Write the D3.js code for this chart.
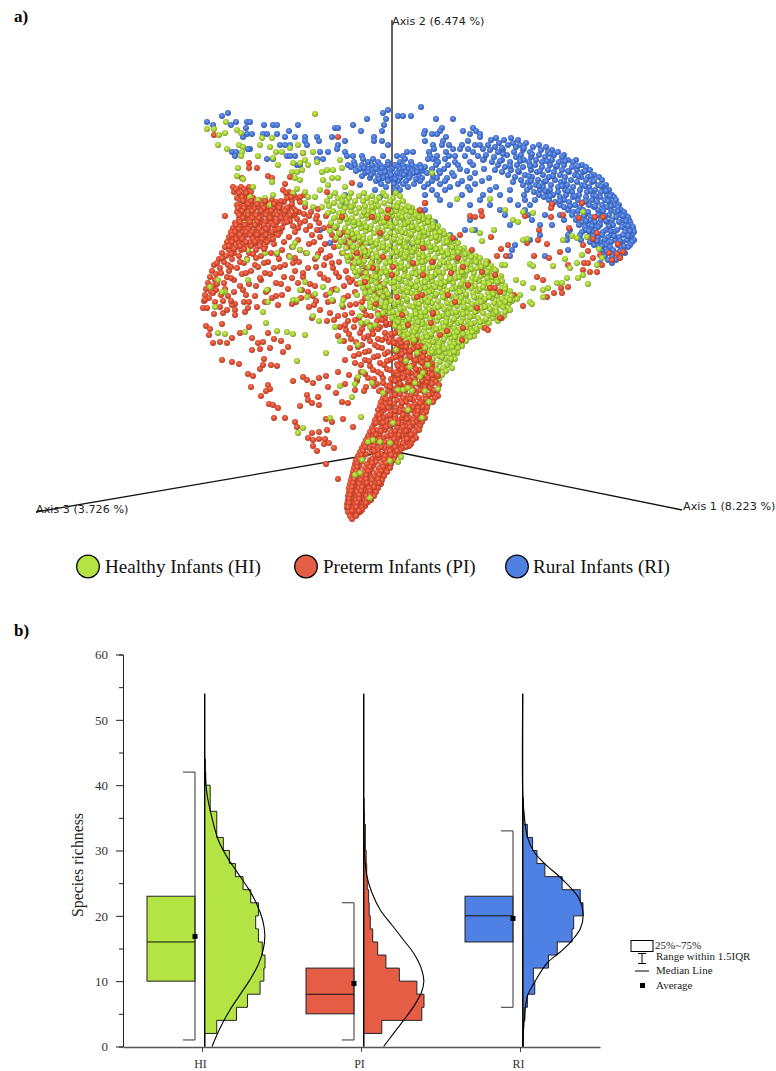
<!DOCTYPE html>
<html>
<head>
<meta charset="utf-8">
<script src="https://cdn.jsdelivr.net/npm/d3@7"></script>
<style>
  html, body { margin: 0; padding: 0; background: #fff; }
  svg { display: block; }
</style>
</head>
<body>
<svg width="776" height="1071"></svg>
<script>
// ---- panel a: PCoA ordination as [axis2, [screen-plane axis1 values]]
const ruralRows = [
  [344,[29]],[341,[-4]],[338,[-164,-9]],[335,[-170,6,19,11]],[332,[-25,-6,44,61]],
  [329,[-156,-145,-142,-185]],[326,[-179,-161,-119,-94,-39,-8,-128,-115]],
  [323,[-146,-57,-54,50,81]],[320,[-103,33,-31,-10,84,71,48]],
  [317,[-145,-140,-129,-125,-115,40,45,32,78,88]],
  [314,[-149,-107,-97,-87,-75,-60,-18,54,88]],
  [310,[-87,-73,-47,-18,-10,33,51,76]],
  [306,[-112,-107,-102,-85,-54,-4,41,50,57,83,88,70]],
  [302,[-142,-144,-55,42,61,68,76,91]],
  [299,[-160,-156,-64,-72,-47,15,21,37,54,81]],
  [295,[-105,-97,-102,-157,-45,-39,-30,-9,5,11,38,45,57,63,73,86]],
  [292,[-125,-119,-75,-69,-29,-19,36,41,53,13,92]],
  [289,[-14,45,46,63,78,-38,-24,-4,8,19]],
  [286,[-95,-92,-44,-37,-30,-20,-12,-4,3,11,20,28,44,56,66,81]],
  [284,[-41,-27,-15,-7,6,15,24,33]],
  [282,[-32,-24,-16,-8,0,8,16,26,40,52,68,92]],
  [280,[-36,-21,-12,-2,11,20,30,47,75]],
  [278,[-27,-19,-11,-3,5,13,22,35,48,60,83]],
  [275,[-30,-14,-5,2,9,18,27,41,62]],
  [273,[-22,-9,0,8,17,30,45,55,78,97]],
  [270,[-16,-4,6,14,28,40,53,70,90]],
  [267,[-11,2,11,22,36,48,66,83]],
  [264,[-6,5,16,32,58,76,104]],
  [261,[3,8,40,53,78,98,118]],
  [256,[33,45,70,91,108,132]],
  [251,[48,88,118,133,143]],
  [246,[58,78,98,126,138,160]],
  [241,[33,108,133]],[236,[113,136,153,168]],[231,[78,140,172]],
  [226,[118,148,160]],[221,[73,83,178]],[216,[58,148,176]],[211,[63,138,175]],[206,[123]],[201,[120,176]],[195,[118,153]]
];
const ruralArc = [
  [313,[104,119]],[311,[99,112,126]],[308,[107,121,134]],[306,[96,116,128,147]],[304,[103,124,141,154]],
  [301,[98,111,131,149,160]],[299,[106,122,138,156,166]],[296,[94,115,129,147,162,172]],[294,[102,124,139,153,170]],
  [291,[91,110,132,144,160,176,184]],[289,[100,118,137,150,167,181]],[286,[106,125,143,158,172,190]],[284,[113,131,150,164,180,194]],
  [281,[103,119,139,156,170,185,198]],[279,[110,127,145,162,177,191]],[276,[116,133,151,168,183,202]],[274,[123,140,157,173,189,196,207]],
  [271,[129,146,163,179,194,210]],[269,[121,136,152,169,185,200]],[266,[131,144,159,175,190,206,214]],[264,[138,151,166,181,197,211]],
  [261,[135,148,158,173,188,203,217]],[259,[142,155,166,180,195,209]],[256,[147,161,174,187,201,215,220]],[254,[152,168,181,194,208,222]],
  [251,[157,172,186,200,213,224]],[249,[163,177,192,205,218]],[246,[168,183,197,210,222,227]],[244,[172,188,202,215,226]],
  [241,[176,191,206,219,229]],[239,[181,196,210,223,232]],[236,[180,193,206,217,229,233]],[234,[186,199,212,224,236]],
  [231,[184,198,209,220,231,237]],[229,[190,203,215,227,238]],[226,[187,197,208,221,233,239]],[224,[193,206,217,230,241]],
  [221,[194,203,214,225,236,241]],[219,[190,200,211,222,233,242]],[216,[188,198,210,219,231,240]],[214,[196,206,216,227,238]],
  [211,[189,202,213,223,235,242]],[209,[198,208,219,230,240]],[206,[202,214,226,238]],[204,[207,218,229,236]],
  [201,[210,221,231]],[198,[214,224,233]],[195,[213,220,228]],[191,[216,224]],[188,[208,220]]
];
const ruralFill = [
  [303,[110,132]],[297,[111,140,158]],[290,[108,128,155,173]],[285,[118,138,165,186]],[280,[126,148,176,193]],
  [275,[137,161,186,199]],[270,[139,154,172,202]],[265,[147,170,193,209]],[260,[153,176,199,214]],[255,[158,183,204,218]],
  [250,[168,194,216]],[245,[178,203,219]],[240,[186,211,226]],[235,[192,213,231]],[230,[194,214,234]],[225,[200,217,236]],
  [220,[197,219,238]],[215,[201,222,236]],[210,[205,228]],[205,[210,232]],[200,[215,228]],
  [283,[-28,-10,12,29]],[279,[-24,-7,14,25]],[276,[-21,-1,12]],[272,[-13,3,24]]
];
const ruralBehind = [[-47,256],[-72,221],[-62,208],[-22,208],[8,198],[20,206],[43,229],[-47,246],[-12,254],[-32,266],[-17,261]];

const pretermBack = [
  [264,[-159,-151,-143]],[261,[-155,-147,-109]],[259,[-158,-141,-103]],[256,[-151,-145,-98,-88]],
  [253,[-155,-148,-139,-105,-94]],[251,[-152,-144,-133,-120,-100]],[249,[-147,-137,-126,-116,-108,-92]],
  [246,[-155,-149,-141,-130,-121,-112]],[244,[-152,-143,-134,-124,-115,-103,-87]],[242,[-147,-138,-128,-119,-109,-98,-74]],
  [239,[-155,-144,-132,-125,-113,-104,-93,-81]],[237,[-151,-139,-128,-118,-108,-97,-88]],[235,[-167,-146,-134,-123,-112,-100,-83,-75,-66]],
  [232,[-153,-143,-131,-120,-106,-95,-76]],[230,[-148,-137,-125,-114,-102,-87]],[228,[-157,-145,-133,-121,-108,-92,-73]],
  [225,[-152,-141,-128,-116,-99,-82,-62]],[223,[-159,-147,-135,-124,-110,-94,-68,-56]],[221,[-155,-143,-130,-117,-86,-75]],
  [219,[-161,-150,-138,-126,-112,-97,-48]],[216,[-157,-146,-133,-120,-80,-60,-52]],[214,[-163,-152,-140,-127,-103,-72,-42]],
  [211,[-159,-148,-135,-123,-94,-57,-38]],[209,[-165,-154,-142,-131,-108,-78,-47]],[207,[-161,-149,-137,-118,-83,-67,-31]],
  [204,[-167,-156,-145,-127,-100,-58,-44]],[201,[-163,-151,-136,-110,-92,-71,-27]],[198,[-170,-158,-143,-121,-86,-50,-36]],
  [195,[-166,-153,-131,-103,-62,-44,-24]],[192,[-173,-160,-145,-113,-77,-31]],[189,[-168,-152,-124,-93,-53,-20]],
  [186,[-178,-164,-137,-107,-68,-39]],[183,[-172,-155,-118,-84,-59,-26]],[180,[-180,-163,-141,-97,-46,-14]],
  [177,[-176,-150,-122,-72,-33]],[174,[-182,-165,-108,-89,-53,-21]],[171,[-177,-158,-131,-64,-40]],
  [168,[-184,-168,-116,-94,-29,-15]],[165,[-179,-152,-136,-77,-48]],[162,[-186,-167,-104,-57,-23,-7]],
  [159,[-181,-158,-126,-84,-37]],[156,[-187,-171,-146,-110,-66,-14]],[153,[-183,-120,-91,-48,-27]],
  [150,[-188,-169,-76,-59,-5]],[147,[-157,-100,-36,-18]],[144,[-172,-135,-83,-49,-9]],
  [141,[-72,-28]],[138,[-62,-40,-14,-3]],[135,[-54,-21]],[133,[-80,-33,-7,1]],[130,[-65,-44,-15]],
  [127,[-28,-2,7]],[124,[-52,-38,-12]],[121,[-46,-20,5]],[118,[-32,-7,12]],[115,[-54,-24,0]],
  [112,[-41,-14,9]],[109,[-36,-3,18]],[106,[-30,-17,6]],[103,[-42,-10,14,24]],[100,[-23,3]],
  [97,[-33,-7,18]],[94,[-18,9]],[91,[-47,-27,-2,22]],[88,[-37,-12]],[85,[-22,6,19]],
  [82,[-5,13]],[79,[-54,-31,-14,26]],[76,[-43,3]],[73,[-24,-9,17,30]],[70,[-35,7]],
  [67,[-47,-15,21,34]],[64,[-26,-2]],[61,[-37,-11,12,28,40]]
];
const pretermFill = [
  [197,[-161,-139,-115,-74,-28]],[193,[-170,-136,-97,-66,-41]],[188,[-175,-148,-128,-99,-60,-34]],[184,[-161,-134,-112,-76,-23]],
  [178,[-171,-146,-127,-89,-56,-30]],[173,[-161,-132,-100,-68,-44]],[167,[-175,-143,-111,-82,-35,-10]],[161,[-176,-149,-124,-90,-60,-18]],
  [155,[-164,-137,-116,-79,-44,-8]],[149,[-177,-148,-127,-96,-64,-30]],[146,[-160,-114,-78,-42,-14]],
  [136,[-47,-26,-10]],[131,[-58,-37,-10]],[126,[-47,-22,-6]],[122,[-30,-14]],[117,[-43,-19,-1]],[113,[-28,-6]],[110,[-48,-22,1]],
  [104,[-34,-14,10]],[99,[-27,-4,12]],[95,[-38,-14,6]],[90,[-23,-5,14]],[86,[-31,-8,11]],[81,[-19,-2,16]],[77,[-27,-11,10]],
  [72,[-35,-18,-1]],[68,[-9,6,23]],[65,[-18,-5,15]],[60,[-28,-13,3]]
];
const pretermSparse = [
  [-54,314],[-178,316],[-89,298],[-143,288],[-143,283],[-135,283],[-124,275],[-120,273],[-107,267],[-150,273],[-102,274],[-40,268],
  [-187,151],[-179,158],[-189,143],[-185,143],[-178,137],[-169,138],[-165,141],[-161,150],[-157,141],[-157,136],[-147,139],[-143,149],[-144,143],
  [-170,127],[-186,125],[-182,122],[-183,116],[-143,124],[-152,118],[-160,113],[-165,108],[-179,108],[-172,109],[-140,113],[-134,108],[-140,101],[-132,102],[-122,103],[-129,109],[-118,112],[-111,110],[-104,104],[-109,99],[-124,118],
  [-170,91],[-160,89],[-153,87],[-128,92],[-129,86],[-132,82],[-121,86],[-115,85],[-144,77],[-139,75],[-141,64],[-131,55],[-124,66],[-122,62],[-126,60],[-123,47],[-119,46],[-114,43],[-118,33],[-107,33],[-97,29],[-95,24],
  [-99,70],[-89,74],[-85,71],[-79,68],[-73,73],[-66,75],[-85,56],[-84,51],[-80,48],[-74,54],[-92,45],[-73,46],[-64,64],[-56,58],[-50,49],[-44,48],[-66,32],[-60,29],[-49,32],[-39,24],[-65,21],[-80,18],[-84,13],[-73,19],[-73,12],[-67,12],[-79,11],[-68,7],[-63,8],[-58,3],[-79,5],[-75,0],[-66,-13],[-54,-28],
  [33,248],[30,237],[78,235],[83,234],[89,240],[90,235],[160,247],[159,243],[159,234],[171,236],[133,235],[135,208],[146,211],[147,221],[155,207],[99,214],[116,206],[109,202],[105,195],[114,195],[142,195],[157,193],[168,199],[96,189],[145,174],[151,171],[177,223],[187,233],[203,234],[211,234],[190,248],[205,218],[201,212],[191,206],[196,200],[217,198],[226,207],[225,197],[220,191],[201,193],[231,199],[228,193],[208,196],[192,188],[196,188],[198,179],[205,179],[210,186],[191,181],[176,186],[176,164],[169,163],[170,158],[162,158],[155,154],[122,156],[131,145],[118,151]
];

const healthyRows = [
  [258,[-57,-41,-28,-9,4]],[255,[-62,-48,-33,-20,-6,8]],[253,[-54,-43,-25,-13,1]],[250,[-65,-50,-37,-29,-16,-2,11]],
  [248,[-58,-45,-21,-8,6]],[245,[-63,-52,-39,-27,-14,2,15]],[243,[-47,-33,-18,-4,9,20]],[240,[-59,-41,-24,-11,4,14,26]],
  [238,[-64,-53,-36,-19,-6,10,23]],[235,[-47,-30,-14,0,17,30]],[233,[-58,-40,-24,-9,6,22,35]],[230,[-52,-34,-17,-3,12,27,40]],
  [228,[-61,-44,-28,-11,4,19,33]],[225,[-55,-38,-21,-6,9,24,38,46]],[223,[-47,-31,-14,1,16,30,44]],[220,[-62,-41,-26,-9,6,21,36,51]],
  [218,[-53,-35,-18,-2,13,28,43]],[215,[-45,-29,-12,3,18,33,48,57]],[213,[-56,-38,-22,-6,9,24,39,54]],[210,[-49,-32,-15,0,15,30,45,62]],
  [208,[-42,-26,-9,6,21,36,52,66]],[205,[-53,-35,-19,-3,11,27,42,58]],[203,[-46,-29,-13,3,17,33,48,63,72]],[200,[-39,-22,-7,9,24,39,55,70,79]],
  [198,[-49,-32,-16,0,15,30,46,61,76]],[195,[-42,-26,-10,5,20,36,52,67,84]],[193,[-35,-19,-4,11,27,43,58,73,88]],[190,[-44,-28,-13,2,18,33,49,65,80,94]],
  [188,[-37,-21,-6,9,25,40,56,71,87]],[185,[-30,-15,0,16,31,47,62,78,92,99]],[183,[-39,-23,-8,7,23,38,54,69,85,97]],[180,[-33,-17,-2,13,29,44,60,75,90,104]],
  [178,[-26,-11,5,20,35,51,66,82,97]],[175,[-35,-19,-4,12,27,42,58,73,89,103,109]],[173,[-28,-13,3,18,33,49,64,80,95,107]],[170,[-21,-6,9,25,40,56,71,87,100,110]],
  [168,[-32,-16,-1,14,30,45,61,76,92,106]],[165,[-24,-9,6,21,37,52,68,83,99,113]],[163,[-29,-14,2,17,33,48,63,79,94,110]],[160,[-21,-6,9,25,40,55,71,86,102,118]],
  [158,[-27,-12,4,19,34,50,65,81,96,112]],[155,[-18,-3,12,28,43,59,74,89,105,119]],[153,[-24,-8,7,22,38,53,69,84,100,115]],[150,[-16,-1,15,30,46,61,76,92,107,120]],
  [148,[-22,-6,9,24,40,55,71,86,102,117]],[145,[-12,3,18,34,49,65,80,96,110]],[143,[-18,-3,12,27,43,58,74,89,104,116]],[140,[-7,8,23,39,54,70,85,100,114]],
  [138,[-2,14,29,45,60,75,91,106]],[135,[3,19,34,50,65,81,96,112]],[133,[0,8,24,40,55,71,86,101,110]],[130,[4,14,30,45,61,76,92,106]],
  [128,[9,20,36,51,66,82,97]],[125,[3,15,26,41,57,72,88]],[123,[8,21,33,48,62,78,92]],[120,[13,27,41,56,70,85]],
  [118,[7,19,33,47,62,76]],[115,[12,25,39,54,68,82]],[113,[17,30,45,59,72]],[110,[14,23,37,51,65,74]],
  [108,[19,31,44,58,69]],[105,[24,37,50,63,70]],[103,[20,30,43,56,66]],[100,[25,36,49,60]],
  [98,[29,42,54,65]],[95,[26,35,47,61]],[92,[31,41,53,63]],[89,[28,37,48,58]],[86,[33,44,55]],
  [83,[30,40,51,60]],[80,[35,46,54]],[76,[33,42,50]],[72,[37,47]]
];
// extra points where the green cloud is solid
const healthyFill = [
  [236,[-25,-3,7,24]],[232,[-46,-15,11,31]],[227,[-33,-2,13,41]],[222,[-22,8,26,39]],[217,[-40,-11,19,36,52]],
  [212,[-29,2,16,47,60]],[207,[-16,12,30,57]],[202,[-36,-5,22,44,68]],[197,[-24,8,27,56,73]],[192,[-12,16,37,64,82]],
  [187,[-31,3,21,48,75,94]],[182,[-16,12,31,62,79,102]],[177,[-5,24,44,71,92]],[172,[-25,7,36,58,84,104]],[167,[-8,19,49,69,97]],
  [162,[-19,11,28,60,88,113]],[157,[-4,24,44,74,101]],[152,[-15,15,33,64,93,110]],[147,[-11,3,27,60,80,108]],[142,[8,37,52,79,98]],
  [137,[6,24,56,71,102]],[132,[17,38,62,94]],[127,[11,30,58,79]],[122,[24,44,68,84]],[117,[16,39,57,71]],[112,[25,52,66]],
  [107,[28,47,62]],[102,[33,52]],[97,[38,58]],[92,[36,59]],
  [244,[-41,-20,5,17]],[239,[-49,-28,-1,19]],[234,[-53,-18,10,27,37]],[229,[-38,-8,16,36]],[224,[-57,-26,-1,20,41]],
  [219,[-44,-13,10,32,48]],[214,[-33,-5,27,44]],[209,[-51,-21,8,26,55]],[204,[-39,-9,14,38,60]],[199,[-27,5,20,50,66]],
  [194,[-45,-15,13,31,61,79]],[189,[-33,-2,30,52,84]],[184,[-23,9,41,58,89]],[179,[-37,-6,28,47,70,95]],[174,[-16,16,39,67,100]],
  [169,[-27,2,33,53,79,105]],[164,[-12,24,43,74,91]],[159,[-22,15,37,68,107]],[154,[-9,22,51,82,97]],[149,[-18,6,36,67,89,113]],
  [144,[-7,21,46,72,93,111]],[139,[1,33,64,83,104]],[134,[11,29,47,78,107]],[129,[6,26,54,69,88]],[124,[12,37,52,74,94]],
  [119,[22,50,65,80]],[114,[21,35,63,78]],[109,[26,41,67]],[104,[27,46,60]],[99,[31,47,62]],[94,[30,50]]
];
const healthySparse = [
  [-77,337],[-185,322],[-178,322],[-166,329],[-167,318],[-173,316],[-155,321],[-151,318],[-174,306],[-165,302],[-153,306],[-149,304],[-150,299],[-151,295],[-134,295],[-130,313],[-120,313],[-132,306],[-122,304],[-116,299],[-110,299],[-102,303],[-94,306],[-89,298],[-79,299],[-119,293],[-114,286],[-154,283],[-155,275],[-149,272],[-120,269],[-99,288],[-92,288],[-87,291],[-84,286],[-75,289],[-52,291],[-100,279],[-95,279],[-90,281],[-97,273],[-92,271],[-70,279],[-65,281],[-59,281],[-50,283],[-69,271],[-60,273],[-54,273],[-64,266],[-95,262],[-87,259],[-84,254],[-99,258],[-139,264],[-142,254],[-119,256],[-134,251],[-127,253],[-87,248],[-77,254],[-70,244],[-79,244],[-72,261],[-47,264],
  [-149,241],[-144,236],[-139,228],[-149,229],[-122,246],[-97,208],[-99,204],[-92,201],[-85,198],[-75,194],[-102,194],[-115,198],[-144,201],[-145,191],[-127,198],[-144,171],[-174,171],[-182,164],[-167,159],[-170,159],[-87,169],[-92,161],[-125,161],[-99,151],[-95,151],[-85,154],[-69,164],[-62,158],[-55,161],
  [-177,144],[-174,118],[-167,117],[-147,119],[-129,139],[-126,128],[-124,149],[-115,120],[-105,119],[-99,117],[-87,116],[-95,90],[-79,135],[-73,130],[-57,124],[-52,110],[-66,98],[-34,106],[-25,129],[-31,128],[-29,79],[-34,74],[-20,68],[-37,67],[-52,65],[-40,54],[-62,33],[-31,34],[-89,23],[-94,18],[-77,157],[-60,151],[-49,151],[-35,156],[-50,146],[-32,135],[-30,143],[-22,144],[-22,124],[-17,126],[-14,136],[-9,138],
  [65,252],[40,278],[98,252],[113,241],[131,239],[141,238],[121,231],[126,229],[80,221],[88,218],[102,221],[90,210],[131,211],[135,212],[171,211],[180,215],[185,213],[195,214],[191,239],[207,202],[190,196],[173,192],[185,188],[178,183],[161,185],[138,187],[141,185],[110,186],[103,181],[113,186],[124,171],[131,168],[141,163],[156,163],[151,161],[165,168],[151,154],[170,168],[175,173],[186,173],[191,176],[196,167],[205,186],[210,193],[128,156],[118,151],[125,152],[138,149],[140,147],[113,139],[118,141]
];

// red points sitting in front of the green cloud: the dense upper-left band and the wedge
const pretermBand = [
  [262,[-156,-148]],[258,[-153,-146,-106]],[254,[-150,-101,-92]],[250,[-149,-141,-127,-111]],[247,[-144,-135,-118,-100]],
  [243,[-154,-148,-128,-113,-105]],[240,[-150,-140,-131,-121,-107,-96]],[236,[-153,-144,-136,-126,-115,-102]],[233,[-149,-140,-133,-122,-111]],
  [229,[-152,-142,-135,-127,-116,-105]],[226,[-156,-147,-137,-128,-119]],[222,[-153,-144,-133,-126,-113]],[219,[-157,-146,-140,-130,-120]],
  [216,[-160,-152,-142,-135,-126,-114]],[212,[-156,-150,-139,-130,-119]],[209,[-160,-146,-137,-125]],[205,[-163,-152,-141,-132]],[202,[-158,-148,-128]]
];
const pretermFront = [
  [111,[7,24]],[108,[2,15]],[105,[10,29]],[102,[4,21]],[99,[13,32]],[96,[7,25]],[93,[1,16,37]],[90,[11,28]],[87,[5,22,40]],[84,[15,33]],
  [81,[8,27,44]],[78,[2,19,37]],[75,[12,30,46]],[72,[6,23,41]],[69,[16,35,44]],[66,[-2,9,28,47]],[63,[4,20,38]],[60,[-4,13,31,45]],
  [57,[-7,8,24,40]],[55,[0,16,33,46]],[53,[-9,11,27,43]],[51,[-3,5,21,37]],[49,[-11,14,30,41]],[47,[-6,2,23,36]],[45,[-12,9,17,33]],
  [43,[-4,4,26,35]],[41,[-14,-8,12,20]],[39,[-1,7,29,34]],[37,[-11,15,23,31]],[35,[-15,-5,3,28]],[33,[-9,10,18,26,33]],[31,[-17,-1,6,21]],
  [29,[-13,-6,14,24,30]],[27,[-18,2,9,17]],[25,[-10,-3,20,28]],[23,[-20,5,12,25]],[21,[-15,-7,17,27]],[19,[-22,-1,8,23]],[17,[-12,3,14,20]],
  [15,[-24,-18,-5,10,22]],[13,[-9,6,17,24]],[11,[-26,-15,-1,12,21]],[9,[-21,-7,4,16]],[7,[-28,-12,8,19]],[5,[-18,-3,13,17]],
  [3,[-30,-23,-8,5,11]],[1,[-14,0,8]],[-1,[-32,-20,-5,4]],[-3,[-26,-11,1,6]],[-5,[-34,-17,-7,3]],[-7,[-29,-13,-1]],
  [-9,[-36,-22,-8,2]],[-11,[-31,-16,-4]],[-13,[-37,-25,-10,-1]],[-15,[-33,-19,-6]],[-17,[-38,-27,-13,-2]],[-19,[-34,-21,-8]],
  [-21,[-39,-28,-15,-5]],[-23,[-35,-23,-11]],[-25,[-40,-30,-18,-8]],[-27,[-36,-25,-12]],[-29,[-41,-31,-20,-10]],[-31,[-37,-27,-15]],
  [-33,[-42,-33,-21,-11]],[-35,[-38,-28,-16]],[-37,[-43,-33,-23,-14]],[-39,[-39,-28,-18]],[-41,[-43,-35,-24,-16]],[-43,[-40,-30,-20]],
  [-45,[-44,-35,-26,-18]],[-47,[-41,-31,-22]],[-49,[-44,-36,-27,-21]],[-51,[-41,-32,-24]],[-53,[-45,-37,-28]],[-55,[-42,-34,-27]],
  [-57,[-45,-38,-30]],[-59,[-43,-35,-30]],[-61,[-44,-38,-32]],[-63,[-41,-35]],[-65,[-42,-36]],[-68,[-40]]
];
const pretermFrontFill = [
  [108,[9,22]],[104,[14,26]],[100,[6,18]],[97,[10,28]],[94,[4,18,31]],[91,[9,24,35]],[88,[13,30]],[85,[6,20,38]],[82,[10,24,40]],
  [79,[4,16,33]],[76,[6,24,40]],[73,[11,36]],[70,[3,18,30]],[67,[8,26,40]],[64,[-2,14,33]],[61,[3,22,42]],
  [56,[3,19,37]],[52,[-6,18,34]],[48,[-2,10,28]],[44,[-9,21,31]],[40,[3,16,26]],[36,[-13,-2,11,25]],[32,[-12,3,15,28]],[28,[-16,-9,6,21]],
  [24,[-6,11,18]],[20,[-19,-11,3,14]],[16,[-16,-1,7,19]],[12,[-23,-12,2,15]],[8,[-25,-14,0,11]],[4,[-27,-11,3,14]],[0,[-29,-18,-2,5]],
  [-4,[-31,-14,-1]],[-8,[-33,-20,-3]],[-12,[-35,-20,-6]],[-16,[-35,-22,-9]],[-20,[-36,-24,-11]],[-24,[-38,-26,-13]],[-28,[-38,-26,-14]],
  [-32,[-39,-25,-13]],[-36,[-40,-30,-18]],[-40,[-41,-31,-22]],[-44,[-42,-33,-22]],[-48,[-43,-33,-25]],[-52,[-43,-35,-26]],[-56,[-44,-36]],[-60,[-40,-33]]
];
const pretermSpecks = [
  [41,137],[39,128],[55,120],[48,116],[70,111],[71,123],[93,123],[109,133],[96,121],
  [-20,234],[-5,233],[-12,218],[-50,234],[-35,198],[-9,194],[-19,183],[1,184],[0,176],[41,189],[21,188],[31,176],[-42,169],[-27,169],[25,154],[5,154],[33,248],[28,241],[-4,241],[-65,259],
  [31,203],[40,189],[59,178],[66,193],[71,184],[80,201],[61,213],[68,216],[98,163],[103,163],[108,159],[108,133],[41,138],[30,156],[76,166],[56,156],[90,179],[103,176],[85,143],[63,149],
  [-6,128],[3,118],[-10,111],[16,126],[10,136],[-16,147]
];
const healthyFront = [
  [11,61],[16,63],[23,68],[33,60],[46,62],[37,49],[16,41],[1,28],[30,33],[-19,11],[-12,9],[-24,9],[-2,8],[9,-6],[-30,-9],[-37,-24],[-22,-47],[-2,-10],[6,-11],[-32,-22],
  [31,78],[18,84],[25,98],[36,86],[45,81],[28,74],[6,61],[20,60],[14,90],[4,101],[-9,58],[40,99],[33,103],[22,111]
];

// panel a axes: end points and their labels
const axisEnds = [
  {label: "Axis 1 (8.223 %)", end: [290, -59]},
  {label: "Axis 2 (6.474 %)", end: [0, 431]},
  {label: "Axis 3 (3.726 %)", end: [-356, -61]}
];
const legendGroups = ["Healthy Infants (HI)", "Preterm Infants (PI)", "Rural Infants (RI)"];
const groupColors = ["#b4e444", "#e65d45", "#4f80e4"];

// ---- panel b: species richness
const categories = ["HI", "PI", "RI"];
const q1 = [10, 5, 16];
const medians = [16, 8, 20];
const q3 = [23, 12, 23];
const whiskerLow = [1, 1, 6];
const whiskerHigh = [42, 22, 33];
const averages = [16.85, 9.65, 19.6];
const histHI = [0, 2.2, 5.8, 7.8, 10.1, 10.8, 11, 10.5, 9.8, 9.3, 9.8, 8.4, 7, 5.6, 4.5, 3.4, 2.2, 2.2, 1, 1, 0.2, 0.1, 0];
const histPI = [0, 3.3, 10.6, 11, 9.7, 6.5, 4.05, 2.55, 1.65, 1.2, 1, 0.9, 0.65, 0.55, 0.45, 0.3, 0.3, 0.1, 0.05, 0];
const histRI = [0.1, 0.15, 0.4, 0.85, 2.2, 1.95, 4.7, 6.3, 9, 9.3, 11, 10.5, 7.2, 4.05, 2.6, 1.8, 0.85, 0.2, 0.1, 0];
const curveHI = [[0,1.33],[2.8,2.79],[5.6,4.6],[7.9,6.42],[10.2,8.24],[12.5,9.76],[14.8,10.67],[17.1,10.97],[19.4,10.55],[21.9,9.45],[24.2,7.94],[26.8,5.82],[29.1,4],[31.6,2.48],[35.2,1.27],[38.3,0.48],[41.8,0.06],[47,0],[54,0]];
const curvePI = [[0,3.64],[2,5.45],[4,7.27],[6.1,9.09],[8.2,10.48],[9.95,10.97],[12,10.48],[14.3,9.09],[16.3,7.27],[18.6,5.15],[20.9,3.03],[23.5,1.52],[26,0.6],[29,0.18],[33,0.05],[38,0],[54,0]];
const curveRI = [[0,0],[3.6,0.24],[7.7,0.85],[9.7,2.06],[12.8,4.48],[14.5,6.9],[16.1,8.85],[18.1,10.55],[20.2,11.03],[22.7,10.24],[25.6,7.2],[28,4],[29.8,2.06],[32.1,0.85],[35.7,0.24],[38.8,0],[54,0]];
const keyLabels = ["25%~75%", "Range within 1.5IQR", "Median Line", "Average"];

const svg = d3.select("svg");
const SERIF = "'Liberation Serif', serif";
const SANS = "'DejaVu Sans', sans-serif";

// panel letters
svg.append("text").attr("x", 14).attr("y", 22).attr("font-family", SERIF).attr("font-weight", "bold").attr("font-size", 17).text("a)");
svg.append("text").attr("x", 14).attr("y", 636).attr("font-family", SERIF).attr("font-weight", "bold").attr("font-size", 17).text("b)");

// ---------- panel a
const px = d3.scaleLinear().domain([-392, 384]).range([0, 776]);
const py = d3.scaleLinear().domain([451, -620]).range([0, 1071]);

const defs = svg.append("defs");
const dotColors = {
  healthy: ["#cfee62", "#a4d230", "#71902a"],
  preterm: ["#f58064", "#e04a2e", "#a53a24"],
  rural: ["#7ba3ee", "#4272d6", "#33569e"]
};
Object.entries(dotColors).forEach(([name, c]) => {
  const g = defs.append("radialGradient").attr("id", "dot-" + name)
    .attr("cx", "45%").attr("cy", "40%").attr("r", "60%");
  g.append("stop").attr("offset", "0%").attr("stop-color", c[0]);
  g.append("stop").attr("offset", "55%").attr("stop-color", c[1]);
  g.append("stop").attr("offset", "100%").attr("stop-color", c[2]);
});
defs.append("filter").attr("id", "soft").append("feGaussianBlur").attr("stdDeviation", 0.35);

const fromRows = rows => rows.flatMap(r => r[1].map(x => [x, r[0]]));

const axesG = svg.append("g");
axesG.selectAll("line").data(axisEnds).join("line")
  .attr("x1", px(0)).attr("y1", py(0))
  .attr("x2", d => px(d.end[0])).attr("y2", d => py(d.end[1]))
  .attr("stroke", "#111").attr("stroke-width", 1.3);

const cloud = svg.append("g").attr("filter", "url(#soft)");
function drawDots(points, name) {
  cloud.append("g").selectAll("circle").data(points).join("circle")
    .attr("cx", d => px(d[0])).attr("cy", d => py(d[1])).attr("r", 3)
    .attr("fill", "url(#dot-" + name + ")");
}
drawDots(fromRows(ruralRows).concat(fromRows(ruralArc), fromRows(ruralFill), ruralBehind), "rural");
drawDots(fromRows(pretermBack).concat(fromRows(pretermFill), pretermSparse), "preterm");
drawDots(fromRows(healthyRows).concat(fromRows(healthyFill), healthySparse), "healthy");
drawDots(fromRows(pretermBand).concat(fromRows(pretermFront), fromRows(pretermFrontFill), pretermSpecks), "preterm");
drawDots(healthyFront, "healthy");

svg.append("g").selectAll("text").data(axisEnds).join("text")
  .attr("x", d => px(d.end[0]) + (d.end[0] > 0 ? 1 : 0))
  .attr("y", d => py(d.end[1]) + (d.end[1] > 0 ? 5 : d.end[0] > 0 ? 0 : 1))
  .attr("font-family", SANS).attr("font-size", 11.2).attr("fill", "#222")
  .text(d => d.label);

const legendCx = [88, 306, 517];
const legendTx = [105, 323, 533];
const legendG = svg.append("g");
legendG.selectAll("circle").data(legendGroups).join("circle")
  .attr("cx", (d, i) => legendCx[i]).attr("cy", 566.5).attr("r", 11.3)
  .attr("fill", (d, i) => groupColors[i]).attr("stroke", "#000").attr("stroke-width", 1.3);
legendG.selectAll("text").data(legendGroups).join("text")
  .attr("x", (d, i) => legendTx[i]).attr("y", 573)
  .attr("font-family", SERIF).attr("font-size", 19.1).attr("fill", "#111")
  .text(d => d);

// ---------- panel b
const y = d3.scaleLinear().domain([0, 60]).range([1046.5, 654.5]);
const x = d3.scaleBand().domain(categories).range([123, 600]);
const freq = d3.scaleLinear().domain([0, 11]).range([0, 60.3]);
const histograms = [histHI, histPI, histRI];
const curves = [curveHI, curvePI, curveRI];

const yAxis = d3.axisLeft(y).tickValues(d3.range(0, 61, 5))
  .tickFormat(d => d % 10 === 0 ? d : "").tickSize(4).tickPadding(3);
const yG = svg.append("g").attr("transform", "translate(123,0)").call(yAxis);
yG.selectAll(".tick line").attr("x2", d => d % 10 === 0 ? -7 : -4).attr("stroke", "#222");
yG.selectAll(".tick text").attr("x", -15).attr("font-family", SERIF).attr("font-size", 13).attr("fill", "#333");
yG.select(".domain").attr("stroke", "#222");

const xAxis = d3.axisBottom(x).tickSize(5).tickSizeOuter(0).tickPadding(7);
const xG = svg.append("g").attr("transform", "translate(0,1047)").call(xAxis);
xG.selectAll(".tick line").attr("stroke", "#444");
xG.selectAll(".tick text").attr("x", -2).attr("font-family", SERIF).attr("font-size", 12).attr("fill", "#333");
xG.select(".domain").attr("stroke", "#555").attr("stroke-width", 1.4);

svg.append("text")
  .attr("transform", "translate(83,865) rotate(-90)")
  .attr("text-anchor", "middle").attr("font-family", SERIF).attr("font-size", 15.8).attr("fill", "#222")
  .text("Species richness");

const BOX_LEFT = -55.5, BOX_RIGHT = -7.5, CAP = 12, BASE = 2.2;
categories.forEach((cat, i) => {
  const c = x(cat) + x.bandwidth() / 2;
  const g = svg.append("g");
  // box
  g.append("rect").attr("x", c + BOX_LEFT).attr("width", BOX_RIGHT - BOX_LEFT)
    .attr("y", y(q3[i])).attr("height", y(q1[i]) - y(q3[i]))
    .attr("fill", groupColors[i]).attr("stroke", "#222").attr("stroke-width", 1);
  g.append("line").attr("x1", c + BOX_LEFT).attr("x2", c + BOX_RIGHT)
    .attr("y1", y(medians[i])).attr("y2", y(medians[i])).attr("stroke", "#111").attr("stroke-width", 1);
  // half bracket whisker
  g.append("path").attr("fill", "none").attr("stroke", "#333").attr("stroke-width", 1)
    .attr("d", d3.line()([
      [c + BOX_RIGHT - CAP, y(whiskerHigh[i])], [c + BOX_RIGHT, y(whiskerHigh[i])],
      [c + BOX_RIGHT, y(whiskerLow[i])], [c + BOX_RIGHT - CAP, y(whiskerLow[i])]
    ]));
  g.append("rect").attr("x", c + BOX_RIGHT - 2.5).attr("y", y(averages[i]) - 2.5)
    .attr("width", 5).attr("height", 5).attr("fill", "#000");
  // histogram, stepped along the y axis, one value per 2-unit bin
  const steps = d3.line().x(d => c + BASE + freq(d)).y((d, k) => y(k * 2)).curve(d3.curveStepBefore);
  g.append("path").attr("d", steps(histograms[i]) + "Z")
    .attr("fill", groupColors[i]).attr("stroke", "#222").attr("stroke-width", 1);
  // baseline and fitted curve
  g.append("line").attr("x1", c + BASE).attr("x2", c + BASE).attr("y1", y(54)).attr("y2", y(0))
    .attr("stroke", "#000").attr("stroke-width", 1.2);
  const fit = d3.line().x(d => c + BASE + freq(d[1])).y(d => y(d[0])).curve(d3.curveCatmullRom);
  g.append("path").attr("d", fit(curves[i])).attr("fill", "none").attr("stroke", "#000").attr("stroke-width", 1.1);
});

// key on the right
const key = svg.append("g");
key.append("rect").attr("x", 631).attr("y", 940.5).attr("width", 22).attr("height", 11)
  .attr("fill", "#fff").attr("stroke", "#000").attr("stroke-width", 1);
key.append("path").attr("fill", "none").attr("stroke", "#000").attr("stroke-width", 1)
  .attr("d", d3.line()([[638, 953.5], [646, 953.5]]) + d3.line()([[642, 953.5], [642, 963.5]]) + d3.line()([[638, 963.5], [646, 963.5]]));
key.append("line").attr("x1", 635).attr("x2", 649).attr("y1", 971).attr("y2", 971).attr("stroke", "#000");
key.append("rect").attr("x", 640).attr("y", 983).attr("width", 5).attr("height", 5).attr("fill", "#000");
const keyY = [949, 960, 974, 989];
const keyX = [655, 656, 656, 656];
key.selectAll("text").data(keyLabels).join("text")
  .attr("x", (d, i) => keyX[i]).attr("y", (d, i) => keyY[i])
  .attr("font-family", SERIF).attr("font-size", 11).attr("fill", "#222").text(d => d);
</script>
</body>
</html>
